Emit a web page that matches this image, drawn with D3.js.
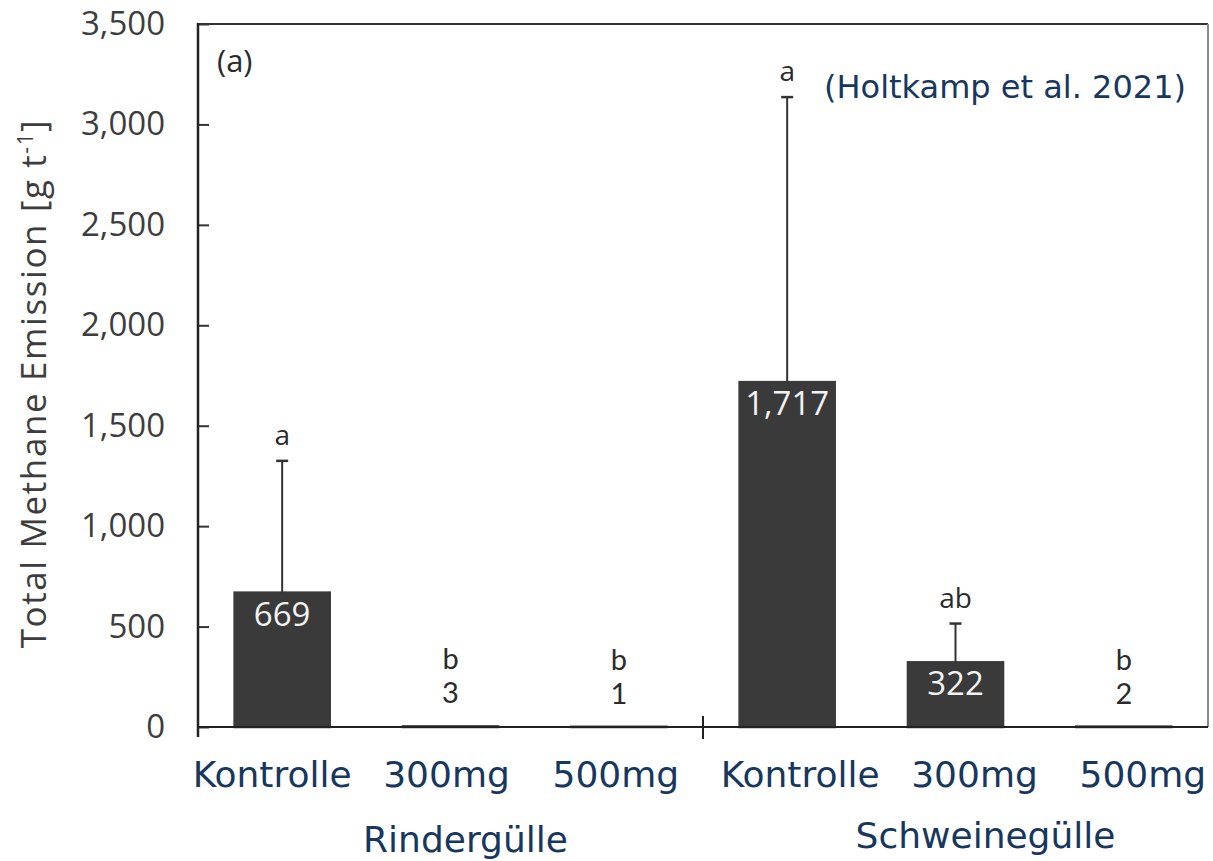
<!DOCTYPE html>
<html>
<head>
<meta charset="utf-8">
<script src="https://cdn.jsdelivr.net/npm/d3@7"></script>
<style>
  html, body { margin: 0; padding: 0; background: #ffffff; }
  svg { display: block; }
</style>
</head>
<body>
<svg id="chart" width="1213" height="861"></svg>
<script>
// Total methane emission per treatment (g t-1), cattle and pig slurry
const categories = ["Kontrolle", "300mg", "500mg", "Kontrolle", "300mg", "500mg"];
const groups = ["Rindergülle", "Schweinegülle"];
const groupOf = [0, 0, 0, 1, 1, 1];
const means = [669, 3, 1, 1717, 322, 2];
const sdUpper = [656, 0, 0, 1419, 193, 0];
const letters = ["a", "b", "b", "a", "ab", "b"];
const yTicks = [0, 500, 1000, 1500, 2000, 2500, 3000, 3500];

// layout
const plotLeft = 198, plotRight = 1208, plotTop = 24, plotBottom = 727;
const barColor = "#3a3a3a";
const ink = "#2b2b2b";
const navy = "#17375e";
const labelShift = [-10, -4, -3, 13, 19, 19];
const groupShift = [15, 30];

const svg = d3.select("#chart");

const x = d3.scaleBand()
  .domain(d3.range(categories.length))
  .range([plotLeft, plotRight])
  .paddingInner(0.435)
  .paddingOuter(0.2175);

const y = d3.scaleLinear().domain([0, 3500]).range([plotBottom, plotTop]);
const fmt = d3.format(",");
const cx = i => x(i) + x.bandwidth() / 2;

// frame: top and right border
svg.append("line")
  .attr("x1", plotLeft).attr("x2", plotRight).attr("y1", plotTop).attr("y2", plotTop)
  .attr("stroke", "#333").attr("stroke-width", 2);
svg.append("line")
  .attr("x1", plotRight).attr("x2", plotRight).attr("y1", plotTop).attr("y2", plotBottom)
  .attr("stroke", "#8a8a8a").attr("stroke-width", 2);

// y axis with inward ticks
const yAxis = svg.append("g")
  .attr("transform", `translate(${plotLeft},0)`)
  .call(d3.axisLeft(y).tickValues(yTicks).tickFormat(fmt).tickSize(-11).tickPadding(33));
yAxis.select(".domain").remove();
yAxis.selectAll(".tick line").attr("stroke", "#333").attr("stroke-width", 2);
yAxis.selectAll(".tick text")
  .attr("fill", "#3d3d3d")
  .style("font-family", "'Open Sans', sans-serif")
  .style("font-size", "33px");
svg.append("line")
  .attr("x1", plotLeft).attr("x2", plotLeft).attr("y1", plotTop - 1).attr("y2", plotBottom + 10)
  .attr("stroke", "#222").attr("stroke-width", 2.5);

// y axis title
const yTitle = svg.append("text")
  .attr("transform", `translate(46,${(plotTop + plotBottom) / 2 + 8}) rotate(-90)`)
  .attr("text-anchor", "middle")
  .attr("fill", "#3d3d3d")
  .style("font-family", "'Open Sans', sans-serif")
  .style("font-size", "35px")
  .style("letter-spacing", "1.6px");
yTitle.append("tspan").text("Total Methane Emission [g t");
yTitle.append("tspan").text("-1").attr("dy", -13).style("font-size", "21px");
yTitle.append("tspan").text("]").attr("dy", 13);

// bars
svg.append("g").selectAll("rect")
  .data(means)
  .join("rect")
  .attr("x", (d, i) => x(i))
  .attr("width", x.bandwidth())
  .attr("y", d => y(d))
  .attr("height", d => y(0) - y(d))
  .attr("fill", barColor)
  .attr("stroke", barColor)
  .attr("stroke-width", 2.5);

// x baseline and group separator
svg.append("line")
  .attr("x1", plotLeft).attr("x2", plotRight).attr("y1", plotBottom).attr("y2", plotBottom)
  .attr("stroke", "#222").attr("stroke-width", 2);
const sepX = (x(2) + x.bandwidth() + x(3)) / 2;
svg.append("line")
  .attr("x1", sepX).attr("x2", sepX).attr("y1", plotBottom - 11).attr("y2", plotBottom + 12)
  .attr("stroke", "#222").attr("stroke-width", 2);

// error bars (upper only)
const withErr = means.map((m, i) => ({ m, s: sdUpper[i], i })).filter(d => d.s > 0);
const eb = svg.append("g").selectAll("g").data(withErr).join("g");
eb.append("line")
  .attr("x1", d => cx(d.i)).attr("x2", d => cx(d.i))
  .attr("y1", d => y(d.m)).attr("y2", d => y(d.m + d.s))
  .attr("stroke", "#333").attr("stroke-width", 2);
eb.append("line")
  .attr("x1", d => cx(d.i) - 6).attr("x2", d => cx(d.i) + 6)
  .attr("y1", d => y(d.m + d.s)).attr("y2", d => y(d.m + d.s))
  .attr("stroke", "#333").attr("stroke-width", 2.5);

// value labels inside bars that carry an error bar
svg.append("g").selectAll("text")
  .data(withErr)
  .join("text")
  .attr("x", d => cx(d.i))
  .attr("y", d => y(d.m) + 33)
  .attr("text-anchor", "middle")
  .attr("fill", "#f2f2f2")
  .style("font-family", "'Open Sans', sans-serif")
  .style("font-size", "33px")
  .text(d => fmt(d.m));

// significance letters above error bars
svg.append("g").selectAll("text")
  .data(withErr)
  .join("text")
  .attr("x", d => cx(d.i))
  .attr("y", d => y(d.m + d.s) - 16)
  .attr("text-anchor", "middle")
  .attr("fill", ink)
  .style("font-family", "'Open Sans', sans-serif")
  .style("font-size", "28px")
  .text(d => letters[d.i]);

// near-zero bars: letter over the value
const flat = means.map((m, i) => ({ m, i })).filter(d => sdUpper[d.i] === 0);
const flatLabels = svg.append("g").selectAll("g")
  .data(flat)
  .join("g")
  .attr("text-anchor", "middle")
  .attr("fill", ink)
  .style("font-family", "Lato, 'Open Sans', sans-serif")
  .style("font-size", "29px");
flatLabels.append("text")
  .attr("x", d => cx(d.i))
  .attr("y", d => y(d.m) - 57)
  .text(d => letters[d.i]);
flatLabels.append("text")
  .attr("x", d => cx(d.i))
  .attr("y", d => y(d.m) - 23)
  .text(d => fmt(d.m));

// panel tag
svg.append("text")
  .attr("x", 217).attr("y", 72)
  .attr("fill", ink)
  .style("font-family", "'Open Sans', sans-serif")
  .style("font-size", "31px")
  .text("(a)");

// source
svg.append("text")
  .attr("x", 1005).attr("y", 98)
  .attr("text-anchor", "middle")
  .attr("fill", navy)
  .style("font-family", "'DejaVu Sans', sans-serif")
  .style("font-size", "32px")
  .text("(Holtkamp et al. 2021)");

// category labels
svg.append("g").selectAll("text")
  .data(categories)
  .join("text")
  .attr("x", (d, i) => cx(i) + labelShift[i])
  .attr("y", 787)
  .attr("text-anchor", "middle")
  .attr("fill", navy)
  .style("font-family", "'DejaVu Sans', sans-serif")
  .style("font-size", "36px")
  .text(d => d);

// group labels
svg.append("g").selectAll("text")
  .data(groups)
  .join("text")
  .attr("x", (d, g) => {
    const idx = d3.range(categories.length).filter(i => groupOf[i] === g);
    return (cx(idx[0]) + cx(idx[idx.length - 1])) / 2 + groupShift[g];
  })
  .attr("y", (d, g) => g === 0 ? 852 : 848)
  .attr("text-anchor", "middle")
  .attr("fill", navy)
  .style("font-family", "'DejaVu Sans', sans-serif")
  .style("font-size", "36px")
  .text(d => d);
</script>
</body>
</html>
